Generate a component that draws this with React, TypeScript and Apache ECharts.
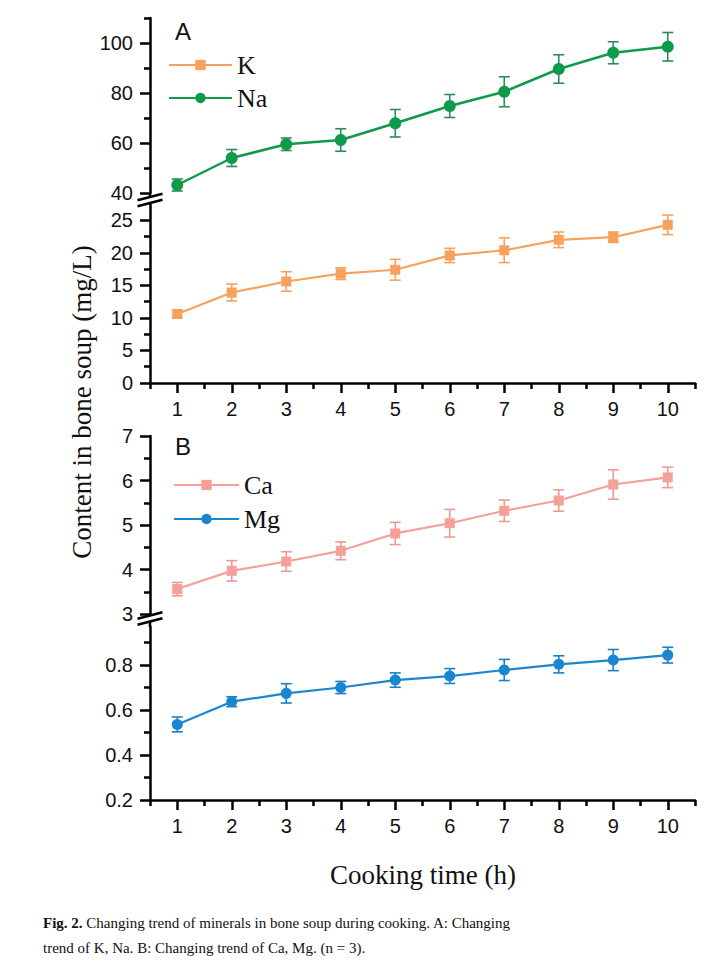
import React, { useEffect, useRef } from "react";
import * as echarts from "echarts";

const hours = [1, 2, 3, 4, 5, 6, 7, 8, 9, 10];
const kMean = [10.6, 13.9, 15.6, 16.8, 17.4, 19.6, 20.4, 22.0, 22.4, 24.3];
const kErr = [0.6, 1.3, 1.5, 0.9, 1.6, 1.1, 1.9, 1.2, 0.8, 1.5];
const naMean = [43.2, 54.0, 59.5, 61.2, 67.9, 74.8, 80.5, 89.6, 96.1, 98.5];
const naErr = [2.4, 3.4, 2.5, 4.5, 5.5, 4.6, 6.0, 5.7, 4.4, 5.7];
const caMean = [3.56, 3.97, 4.18, 4.42, 4.81, 5.04, 5.32, 5.55, 5.91, 6.07];
const caErr = [0.15, 0.23, 0.22, 0.2, 0.25, 0.31, 0.24, 0.24, 0.33, 0.23];
const mgMean = [0.536, 0.637, 0.674, 0.7, 0.733, 0.751, 0.778, 0.803, 0.822, 0.844];
const mgErr = [0.033, 0.022, 0.043, 0.027, 0.032, 0.033, 0.047, 0.038, 0.047, 0.035];

const xMajor = [1, 2, 3, 4, 5, 6, 7, 8, 9, 10];
const xMinor = [0.5, 1.5, 2.5, 3.5, 4.5, 5.5, 6.5, 7.5, 8.5, 9.5, 10.5];
const naMajor = [40, 60, 80, 100];
const naMinor = [50, 70, 90, 110];
const kMajor = [0, 5, 10, 15, 20, 25];
const kMinor = [2.5, 7.5, 12.5, 17.5, 22.5];
const caMajor = [3, 4, 5, 6, 7];
const caMinor = [3.5, 4.5, 5.5, 6.5];
const mgMajor = [0.2, 0.4, 0.6, 0.8];
const mgMinor = [0.3, 0.5, 0.7, 0.9];

const C_K = "#f6a25e";
const C_NA = "#0e9a4b";
const C_CA = "#f4a19a";
const C_MG = "#1b86d0";

const SANS = "'Liberation Sans', Arial, sans-serif";
const SERIF = "'Liberation Serif', 'Times New Roman', serif";

const AXIS_W = 2.5;

function yMajorAxis(grid: number, min: number, max: number, ticks: number[]) {
  return {
    type: "value",
    gridIndex: grid,
    position: "left",
    min,
    max,
    axisLine: { show: true, lineStyle: { color: "#000", width: AXIS_W } },
    axisTick: { show: true, length: 10, customValues: ticks, lineStyle: { color: "#000", width: AXIS_W } },
    axisLabel: { show: true, customValues: ticks, margin: 17, fontFamily: SANS, fontSize: 20, color: "#111" },
    splitLine: { show: false },
  };
}
function yMinorAxis(grid: number, min: number, max: number, ticks: number[]) {
  return {
    type: "value",
    gridIndex: grid,
    position: "left",
    min,
    max,
    axisLine: { show: false },
    axisTick: { show: true, length: 6, customValues: ticks, lineStyle: { color: "#000", width: AXIS_W } },
    axisLabel: { show: false },
    splitLine: { show: false },
  };
}
function xMajorAxis(grid: number) {
  return {
    type: "value",
    gridIndex: grid,
    position: "bottom",
    min: 0.5,
    max: 10.5,
    axisLine: { show: true, onZero: false, lineStyle: { color: "#000", width: AXIS_W } },
    axisTick: { show: true, length: 10, customValues: xMajor, lineStyle: { color: "#000", width: AXIS_W } },
    axisLabel: { show: true, customValues: xMajor, margin: 16, fontFamily: SANS, fontSize: 20, color: "#111" },
    splitLine: { show: false },
  };
}
function xMinorAxis(grid: number) {
  return {
    type: "value",
    gridIndex: grid,
    position: "bottom",
    min: 0.5,
    max: 10.5,
    axisLine: { show: false, onZero: false },
    axisTick: { show: true, length: 6, customValues: xMinor, lineStyle: { color: "#000", width: AXIS_W } },
    axisLabel: { show: false },
    splitLine: { show: false },
  };
}
function xHidden(grid: number) {
  return { type: "value", gridIndex: grid, min: 0.5, max: 10.5, show: false };
}

function lineSeries(name: string, xi: number, yi: number, mean: number[], color: string, symbol: string, size: number, lw: number) {
  return {
    type: "line",
    name,
    xAxisIndex: xi,
    yAxisIndex: yi,
    data: hours.map((h, i) => [h, mean[i]]),
    symbol,
    symbolSize: size,
    showSymbol: true,
    lineStyle: { color, width: lw },
    itemStyle: { color },
    z: 3,
  };
}
function errSeries(name: string, xi: number, yi: number, mean: number[], err: number[], color: string) {
  return {
    type: "custom",
    name,
    xAxisIndex: xi,
    yAxisIndex: yi,
    data: hours.map((h, i) => [h, mean[i], err[i]]),
    encode: { x: 0, y: 1 },
    z: 2,
    renderItem: (params: any, api: any) => {
      const x = api.value(0);
      const m = api.value(1);
      const e = api.value(2);
      const top = api.coord([x, m + e]);
      const bot = api.coord([x, m - e]);
      const hw = 5.5;
      const st = { stroke: color, lineWidth: 1.6 };
      return {
        type: "group",
        children: [
          { type: "line", shape: { x1: top[0], y1: top[1], x2: bot[0], y2: bot[1] }, style: st },
          { type: "line", shape: { x1: top[0] - hw, y1: top[1], x2: top[0] + hw, y2: top[1] }, style: st },
          { type: "line", shape: { x1: bot[0] - hw, y1: bot[1], x2: bot[0] + hw, y2: bot[1] }, style: st },
        ],
      };
    },
  };
}

function breakMark(ax: number, yTop: number, yBot: number, c1: number, c2: number) {
  const dx = 12.5;
  const dy = 3.2;
  return {
    type: "group",
    z: 100,
    children: [
      { type: "line", shape: { x1: ax, y1: yTop, x2: ax, y2: yBot }, style: { stroke: "#000", lineWidth: AXIS_W } },
      {
        type: "polygon",
        shape: { points: [[ax - dx, c1 + dy], [ax + dx, c1 - dy], [ax + dx, c2 - dy], [ax - dx, c2 + dy]] },
        style: { fill: "#fff" },
      },
      { type: "line", shape: { x1: ax - dx, y1: c1 + dy, x2: ax + dx, y2: c1 - dy }, style: { stroke: "#000", lineWidth: 2.5 } },
      { type: "line", shape: { x1: ax - dx, y1: c2 + dy, x2: ax + dx, y2: c2 - dy }, style: { stroke: "#000", lineWidth: 2.5 } },
    ],
  };
}

export default function App() {
  const ref = useRef<HTMLDivElement>(null);
  useEffect(() => {
    if (!ref.current) return;
    const chart = echarts.init(ref.current, undefined, { renderer: "svg" });
    const L = 150;
    const W = 545;
    const option: any = {
      animation: false,
      backgroundColor: "#fff",
      grid: [
        { left: L, width: W, top: 18, height: 175 },
        { left: L, width: W, top: 205, height: 178 },
        { left: L, width: W, top: 436, height: 178 },
        { left: L, width: W, top: 627, height: 173 },
      ],
      xAxis: [xHidden(0), xMajorAxis(1), xMinorAxis(1), xHidden(2), xMajorAxis(3), xMinorAxis(3)],
      yAxis: [
        yMajorAxis(0, 40, 110, naMajor),
        yMinorAxis(0, 40, 110, naMinor),
        yMajorAxis(1, 0, 27.35, kMajor),
        yMinorAxis(1, 0, 27.35, kMinor),
        yMajorAxis(2, 3, 7, caMajor),
        yMinorAxis(2, 3, 7, caMinor),
        yMajorAxis(3, 0.2, 0.969, mgMajor),
        yMinorAxis(3, 0.2, 0.969, mgMinor),
      ],
      legend: [
        {
          data: ["K", "Na"],
          orient: "vertical",
          left: 163,
          top: 47,
          itemWidth: 63,
          itemHeight: 13,
          itemGap: 7,
          selectedMode: false,
          textStyle: { fontFamily: SERIF, fontSize: 26, lineHeight: 26, color: "#111" },
        },
        {
          data: ["Ca", "Mg"],
          orient: "vertical",
          left: 168,
          top: 467,
          itemWidth: 65,
          itemHeight: 13,
          itemGap: 8,
          selectedMode: false,
          textStyle: { fontFamily: SERIF, fontSize: 26, lineHeight: 26, color: "#111" },
        },
      ],
      series: [
        errSeries("Na err", 0, 0, naMean, naErr, "#2e8a57"),
        lineSeries("Na", 0, 0, naMean, C_NA, "circle", 12, 2.5),
        errSeries("K err", 1, 2, kMean, kErr, C_K),
        lineSeries("K", 1, 2, kMean, C_K, "rect", 10, 2.2),
        errSeries("Ca err", 3, 4, caMean, caErr, "#ee9a93"),
        lineSeries("Ca", 3, 4, caMean, C_CA, "rect", 10, 2.2),
        errSeries("Mg err", 4, 6, mgMean, mgErr, "#1a7fc4"),
        lineSeries("Mg", 4, 6, mgMean, C_MG, "circle", 11, 2.2),
      ],
      graphic: [
        breakMark(L, 193, 205, 197, 203),
        breakMark(L, 614, 627, 615.5, 621.5),
        {
          type: "text",
          x: 183,
          y: 31,
          style: { text: "A", font: `24px ${SANS}`, fill: "#111", align: "center", verticalAlign: "middle", textAlign: "center", textVerticalAlign: "middle" },
        },
        {
          type: "text",
          x: 183,
          y: 446,
          style: { text: "B", font: `24px ${SANS}`, fill: "#111", align: "center", verticalAlign: "middle", textAlign: "center", textVerticalAlign: "middle" },
        },
        {
          type: "text",
          x: 82,
          y: 402,
          rotation: Math.PI / 2,
          style: {
            text: "Content in bone soup (mg/L)",
            font: `27px ${SERIF}`,
            fill: "#111",
            align: "center",
            verticalAlign: "middle",
            textAlign: "center",
            textVerticalAlign: "middle",
          },
        },
        {
          type: "text",
          x: 423,
          y: 875,
          style: {
            text: "Cooking time (h)",
            font: `27px ${SERIF}`,
            fill: "#111",
            align: "center",
            verticalAlign: "middle",
            textAlign: "center",
            textVerticalAlign: "middle",
          },
        },
        {
          type: "text",
          x: 43,
          y: 923,
          style: {
            text: "{b|Fig. 2.} Changing trend of minerals in bone soup during cooking. A: Changing",
            font: `15px ${SERIF}`,
            fill: "#111",
            verticalAlign: "middle",
            textVerticalAlign: "middle",
            rich: { b: { fontWeight: "bold", fontFamily: SERIF, fontSize: 15, fill: "#111" } },
          },
        },
        {
          type: "text",
          x: 43,
          y: 948,
          style: {
            text: "trend of K, Na. B: Changing trend of Ca, Mg. (n = 3).",
            font: `15px ${SERIF}`,
            fill: "#111",
            verticalAlign: "middle",
            textVerticalAlign: "middle",
          },
        },
      ],
    };
    chart.setOption(option);
    return () => chart.dispose();
  }, []);
  return <div ref={ref} style={{ position: "absolute", left: 0, top: 0, width: 720, height: 978 }} />;
}
